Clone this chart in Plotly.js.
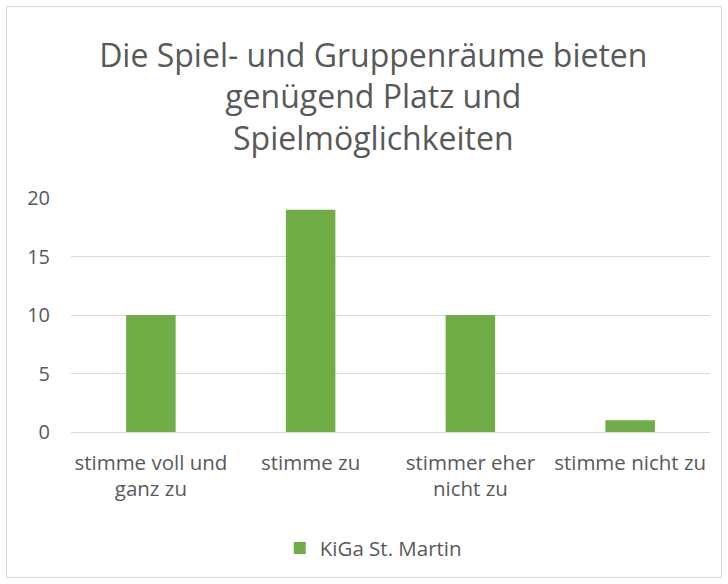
<!DOCTYPE html>
<html>
<head>
<meta charset="utf-8">
<script src="https://cdn.plot.ly/plotly-3.0.1.min.js"></script>
<style>
html,body{margin:0;padding:0;background:#fff;}
#wrap{position:absolute;left:6px;top:6px;width:714px;height:570px;border:1px solid #d9d9d9;}
#chart{width:714px;height:570px;}
</style>
</head>
<body>
<div id="wrap"><div id="chart"></div></div>
<script>
const categories = ["stimme voll und<br>ganz zu", "stimme zu", "stimmer eher<br>nicht zu", "stimme nicht zu"];
const values = [10, 19, 10, 1];
const seriesName = "KiGa St. Martin";
const titleText = "Die Spiel- und Gruppenräume bieten<br>genügend Platz und<br>Spielmöglichkeiten";
const yTicks = [0, 5, 10, 15, 20];

const font = "Open Sans, Calibri, sans-serif";
const gray = "#595959";

Plotly.newPlot("chart", [{
  type: "bar",
  x: categories,
  y: values,
  name: seriesName,
  marker: {color: "#70ad47"},
  showlegend: true
}], {
  width: 714, height: 570,
  margin: {l: 64, r: 11, t: 191, b: 144},
  paper_bgcolor: "#fff", plot_bgcolor: "#fff",
  font: {family: font, color: gray, size: 20},
  title: {text: titleText, font: {size: 32, color: gray, family: font}, x: 0.513, xanchor: "center", xref: "container", y: 0.895, yanchor: "top", yref: "container"},
  bargap: 0.69,
  xaxis: {showgrid: false, showline: false, zeroline: false, ticks: "", tickfont: {size: 20.5, color: gray}, ticklabelstandoff: 16, fixedrange: true},
  yaxis: {range: [0, 20], tickvals: yTicks, showgrid: true, gridcolor: "#d9d9d9", gridwidth: 1, zeroline: true, zerolinecolor: "#d9d9d9", zerolinewidth: 1, showline: false, ticks: "", tickfont: {size: 20, color: gray}, ticklabelstandoff: 20},
  showlegend: true,
  legend: {orientation: "h", x: 0.473, xanchor: "center", y: -0.49, yanchor: "middle", font: {size: 20.5, color: gray}, itemwidth: 30}
}, {displayModeBar: false, staticPlot: true});
</script>
</body>
</html>
